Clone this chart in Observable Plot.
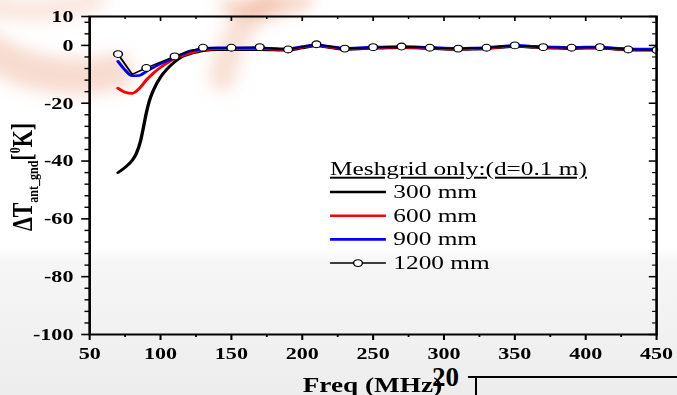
<!DOCTYPE html>
<html><head><meta charset="utf-8">
<script src="https://cdn.jsdelivr.net/npm/d3@7"></script>
<script src="https://cdn.jsdelivr.net/npm/@observablehq/plot@0.6"></script>
<style>
html,body{margin:0;padding:0;}
body{width:677px;height:395px;overflow:hidden;position:relative;
  background:linear-gradient(to bottom,#ffffff 0px,#ffffff 248px,#f6f6f6 262px,#ededed 395px);}
#bg{position:absolute;left:0;top:0;}
#wrap{position:absolute;left:0;top:0;transform:scaleX(1.2994);transform-origin:0 0;}
#frag{position:absolute;left:0;top:0;}
</style></head><body>
<svg id="bg" width="677" height="395">
  <defs><filter id="blur" x="-50%" y="-50%" width="200%" height="200%"><feGaussianBlur stdDeviation="8"/></filter></defs>
  <g filter="url(#blur)" fill="none" stroke-linecap="round">
    <path d="M -20 45 Q 40 88 115 72" stroke="#f0b8a0" stroke-width="36" opacity="0.5"/>
    <path d="M -10 5 Q 40 18 95 0" stroke="#f3c8b6" stroke-width="22" opacity="0.45"/>
    <path d="M 222 78 Q 230 30 272 -5" stroke="#f2c0a8" stroke-width="26" opacity="0.5"/>
    <path d="M 228 6 Q 260 16 305 0" stroke="#ec9a78" stroke-width="16" opacity="0.45"/>
  </g>
</svg>
<div id="wrap"></div>
<svg id="frag" width="677" height="395">
  <text x="432" y="386" font-family="'Liberation Serif', serif" font-weight="bold" font-size="27">20</text>
  <line x1="468" y1="377" x2="677" y2="377" stroke="#000" stroke-width="2"/>
  <line x1="476" y1="377" x2="476" y2="395" stroke="#000" stroke-width="2"/>
</svg>
<script>
// ---- data ----
const freqs300 = [70,75,80,83,86,88,90,92,95,100,105,110,115,120,125,130,135,140,150,160,170,180,190,200,210,220,230,240,250,260,270,280,290,300,310,320,330,340,350,360,370,380,390,400,410,420,430,440,450];
const t300 = [-44.0,-42.2,-39.8,-37.3,-32.9,-28.2,-23.3,-19.4,-15.5,-11.0,-8.0,-5.7,-4.0,-3.1,-2.4,-1.8,-1.6,-1.5,-1.5,-1.5,-1.5,-1.6,-1.7,-0.9,-0.2,-0.8,-1.4,-1.2,-1.0,-0.9,-0.8,-0.9,-1.1,-1.3,-1.4,-1.3,-1.1,-0.7,-0.4,-0.6,-0.9,-1.0,-1.1,-1.0,-1.0,-1.3,-1.6,-1.7,-1.7];
const freqs = [70,75,80,85,90,95,100,105,110,115,120,125,130,135,140,150,160,170,180,190,200,210,220,230,240,250,260,270,280,290,300,310,320,330,340,350,360,370,380,390,400,410,420,430,440,450];
const t600 = [-14.8,-16.2,-16.6,-14.9,-12.0,-9.6,-7.6,-6.0,-4.6,-3.6,-2.8,-2.1,-1.6,-1.3,-1.1,-1.1,-1.1,-1.1,-1.3,-1.4,-0.6,0.0,-0.6,-1.2,-1.0,-0.8,-0.7,-0.6,-0.7,-0.9,-1.1,-1.2,-1.1,-0.9,-0.5,-0.2,-0.4,-0.7,-0.8,-0.9,-0.8,-0.8,-1.1,-1.4,-1.5,-1.5];
const t900 = [-5.5,-8.5,-10.5,-10.4,-9.0,-7.6,-6.3,-5.3,-4.2,-3.1,-2.1,-1.6,-1.2,-0.9,-0.8,-0.8,-0.8,-0.8,-1.1,-1.2,-0.4,0.1,-0.4,-1.0,-0.8,-0.6,-0.5,-0.4,-0.5,-0.7,-0.9,-1.0,-0.9,-0.7,-0.3,0.0,-0.2,-0.5,-0.6,-0.7,-0.6,-0.6,-0.9,-1.2,-1.3,-1.3];
const freqs1200 = [70,80,90,100,110,120,130,140,150,160,170,180,190,200,210,220,230,240,250,260,270,280,290,300,310,320,330,340,350,360,370,380,390,400,410,420,430,440,450];
const t1200 = [-3.0,-10.0,-7.8,-5.8,-3.8,-2.0,-0.8,-0.8,-0.8,-0.7,-0.6,-1.0,-1.4,-0.5,0.4,-0.4,-1.1,-0.9,-0.6,-0.5,-0.4,-0.5,-0.8,-1.0,-1.1,-0.9,-0.8,-0.4,0.0,-0.3,-0.6,-0.7,-0.8,-0.7,-0.6,-1.0,-1.4,-1.5,-1.6];
const seriesNames = ["300 mm","600 mm","900 mm","1200 mm"];
const seriesColors = ["#000000","#ff0000","#0000ff","#000000"];
const legendTitle = "Meshgrid only:(d=0.1 m)";
const xMajor = [50,100,150,200,250,300,350,400,450];
const xMinor = [75,125,175,225,275,325,375,425];
const yMajor = [10,0,-20,-40,-60,-80,-100];
const yMinor = [8,4,-4,-8,-12,-16,-24,-28,-32,-36,-44,-48,-52,-56,-64,-68,-72,-76,-84,-88,-92,-96];
const xLabel = "Freq (MHz)";

// ---- layout ----
const width = 521, height = 395;
const mL = 68.5, mR = 16.2, mT = 16, mB = 61;
const plotW = width - mL - mR, plotH = height - mT - mB;
const serif = "'Liberation Serif', 'Times New Roman', serif";

const rows = (f, v, s) => f.map((d, i) => ({freq: d, dT: v[i], series: s}));
const d300 = rows(freqs300, t300, seriesNames[0]);
const d600 = rows(freqs, t600, seriesNames[1]);
const d900 = rows(freqs, t900, seriesNames[2]);
const d1200 = rows(freqs1200, t1200, seriesNames[3]);
const d1200m = d1200.filter((d, i) => i % 2 === 0);

const chart = Plot.plot({
  width, height,
  marginLeft: mL, marginRight: mR, marginTop: mT, marginBottom: mB,
  x: {domain: [50, 450]},
  y: {domain: [-100, 10]},
  style: {background: "transparent", fontFamily: serif, fontWeight: "bold", fontSize: "17px", color: "#000"},
  marks: [
    Plot.axisX({anchor: "bottom", ticks: xMajor, tickSize: 6, tickPadding: 6.5, strokeWidth: 1.6, tickFormat: d => String(d), label: null}),
    Plot.axisX({anchor: "bottom", ticks: xMinor, tickSize: 3, strokeWidth: 1.4, tickFormat: () => "", label: null}),
    Plot.axisY({anchor: "left", ticks: yMajor, tickSize: 6, tickPadding: 6.5, strokeWidth: 1.6, tickFormat: d => String(d), label: null}),
    Plot.axisY({anchor: "left", ticks: yMinor, tickSize: 3.5, strokeWidth: 1.4, tickFormat: () => "", label: null}),
    Plot.tickX(xMajor, {x: d => d, insetBottom: plotH - 5, stroke: "#000", strokeWidth: 1.3}),
    Plot.tickX(xMinor, {x: d => d, insetBottom: plotH - 3, stroke: "#000", strokeWidth: 1.1}),
    Plot.tickY(yMajor, {y: d => d, insetLeft: plotW - 5.5, stroke: "#000", strokeWidth: 1.5}),
    Plot.tickY(yMinor, {y: d => d, insetLeft: plotW - 3, stroke: "#000", strokeWidth: 1.1}),
    Plot.line(d300, {x: "freq", y: "dT", stroke: seriesColors[0], strokeWidth: 2.6, curve: "monotone-x"}),
    Plot.line(d600, {x: "freq", y: "dT", stroke: seriesColors[1], strokeWidth: 2.6, curve: "monotone-x"}),
    Plot.line(d900, {x: "freq", y: "dT", stroke: seriesColors[2], strokeWidth: 2.6, curve: "monotone-x"}),
    Plot.line(d1200, {x: "freq", y: "dT", stroke: seriesColors[3], strokeWidth: 1.5}),
    Plot.dot(d1200m, {x: "freq", y: "dT", r: 3.4, fill: "#fff", stroke: "#000", strokeWidth: 1.1, clip: true}),
    Plot.frame({stroke: "#000", strokeWidth: 2})
  ]
});
document.getElementById("wrap").appendChild(chart);

const svg = d3.select(chart);
// x axis title
svg.append("text")
  .attr("x", (mL + width - mR) / 2).attr("y", 392)
  .attr("text-anchor", "middle").attr("font-size", 21).attr("font-weight", "bold")
  .attr("font-family", serif).attr("fill", "#000")
  .text(xLabel);
// y axis title
const yl = svg.append("text")
  .attr("transform", "translate(24.6,177) rotate(-90)")
  .attr("text-anchor", "middle").attr("font-size", 22).attr("font-weight", "bold")
  .attr("font-family", serif).attr("fill", "#000");
yl.append("tspan").text("ΔT");
yl.append("tspan").attr("font-size", 12).attr("dy", 5).text("ant_gnd");
yl.append("tspan").attr("dy", -5).text("[");
yl.append("tspan").attr("font-size", 12).attr("dy", -9).text("0");
yl.append("tspan").attr("dy", 9).text("K]");
// legend
const lg = svg.append("g").attr("font-family", serif).attr("font-weight", "normal")
  .attr("font-size", 19.5).attr("fill", "#000").attr("text-anchor", "start");
lg.append("text").attr("x", 254).attr("y", 175).style("text-decoration", "underline").text(legendTitle);
seriesNames.forEach((name, i) => {
  const yb = 198 + i * 23.7;
  lg.append("line").attr("x1", 254).attr("x2", 297).attr("y1", yb - 6).attr("y2", yb - 6)
    .attr("stroke", seriesColors[i]).attr("stroke-width", i === 3 ? 1.5 : 2.6);
  if (i === 3) {
    lg.append("ellipse").attr("cx", 275.5).attr("cy", yb - 6).attr("rx", 3.4).attr("ry", 3.4)
      .attr("fill", "#fff").attr("stroke", "#000").attr("stroke-width", 1.1);
  }
  lg.append("text").attr("x", 302.7).attr("y", yb).text(name);
});
</script>
</body></html>
